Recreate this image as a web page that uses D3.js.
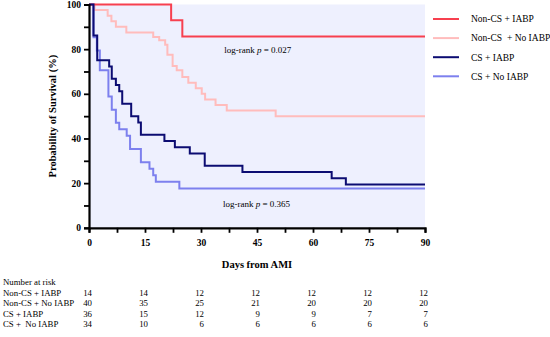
<!DOCTYPE html>
<html>
<head>
  <script src="https://d3js.org/d3.v7.min.js"></script>
  <style>
    body { margin: 0; background: #fff; }
    svg { display: block; font-family: "Liberation Serif", "DejaVu Serif", serif; }
  </style>
</head>
<body>
  <svg id="chart" width="550" height="337"></svg>
  <script>
    // group names (legend order) and colours
    const groups = ["Non-CS + IABP", "Non-CS  + No IABP", "CS + IABP", "CS + No IABP"];
    const colors = ["#f7404f", "#ffbcbc", "#0c0c72", "#7d80ee"];

    // survival steps [day, %]
    const nonCsIabp = [[0, 100], [22, 92.9], [25, 85.7], [90, 85.7]];
    const nonCsNoIabp = [[0, 100], [1.5, 97.5], [5, 95], [6, 92.5], [7.2, 90], [10, 87.5], [17.2, 85.5],
      [18.8, 84], [20.4, 82], [21, 77.5], [22.4, 72.5], [23.5, 70.5], [25, 67.5], [26.6, 65],
      [28.6, 62.5], [30.2, 60], [31.1, 57.5], [33.9, 55], [36.9, 52.5], [50, 50], [90, 50]];
    const csIabp = [[0, 100], [1.2, 86.1], [2.2, 75], [5.4, 72.2], [6.1, 66.7], [7.2, 63.9], [8.1, 61.1],
      [8.9, 55.6], [11.3, 50], [13.2, 47.2], [13.9, 41.7], [20.2, 38.9], [23, 36.1], [27, 33.3],
      [31, 27.8], [41.1, 25], [65, 22.2], [68.8, 19.4], [90, 19.4]];
    const csNoIabp = [[0, 100], [1.2, 85.3], [2.1, 79.4], [2.9, 70.6], [5.2, 58.8], [6.1, 52.9],
      [7.2, 47.1], [8.1, 44.1], [10.1, 41.2], [11, 35.3], [13.9, 29.4], [16.2, 26.5], [17.2, 23.5],
      [17.9, 20.6], [24.2, 17.6], [90, 17.6]];
    const series = [nonCsIabp, nonCsNoIabp, csIabp, csNoIabp];

    const xTicks = [0, 15, 30, 45, 60, 75, 90];
    const yTicks = [0, 20, 40, 60, 80, 100];

    // number at risk table
    const riskDays = [0, 15, 30, 45, 60, 75, 90];
    const riskNonCsIabp = [14, 14, 12, 12, 12, 12, 12];
    const riskNonCsNoIabp = [40, 35, 25, 21, 20, 20, 20];
    const riskCsIabp = [36, 15, 12, 9, 9, 7, 7];
    const riskCsNoIabp = [34, 10, 6, 6, 6, 6, 6];
    const riskLabels = ["Non-CS + IABP", "Non-CS + No IABP", "CS + IABP", "CS +  No IABP"];
    const riskRows = [riskNonCsIabp, riskNonCsNoIabp, riskCsIabp, riskCsNoIabp];

    const svg = d3.select("#chart");
    const margin = { top: 4.5, left: 89 };
    const width = 336, height = 223.3;

    const x = d3.scaleLinear().domain([0, 90]).range([0, width]);
    const y = d3.scaleLinear().domain([0, 100]).range([height, 0]);

    const g = svg.append("g").attr("transform", `translate(${margin.left},${margin.top})`);

    // plot background
    g.append("rect")
      .attr("x", x(0)).attr("y", y(100))
      .attr("width", x(90) - x(0)).attr("height", y(0) - y(100))
      .attr("fill", "#eef0fe");

    // curves
    const line = d3.line().x(d => x(d[0])).y(d => y(d[1])).curve(d3.curveStepAfter);
    const drawOrder = [1, 3, 0, 2];
    drawOrder.forEach(i => {
      g.append("path")
        .datum(series[i])
        .attr("d", line)
        .attr("fill", "none")
        .attr("stroke", colors[i])
        .attr("stroke-width", 2);
    });

    // axes
    const xAxis = d3.axisBottom(x).tickValues(xTicks).tickSize(5).tickPadding(6);
    const xMinor = d3.axisBottom(x).tickValues(xTicks.slice(0, -1).map(d => d + 7.5)).tickSize(5).tickFormat("");
    const yAxis = d3.axisLeft(y).tickValues(yTicks).tickSize(5).tickPadding(3);
    const yMinor = d3.axisLeft(y).tickValues(yTicks.slice(0, -1).map(d => d + 10)).tickSize(5).tickFormat("");

    function styleAxis(sel) {
      sel.select(".domain").attr("stroke", "#000").attr("stroke-width", 2.2);
      sel.selectAll(".tick line").attr("stroke", "#000").attr("stroke-width", 1.8);
      sel.selectAll("text")
        .attr("fill", "#000")
        .style("font-family", "'Liberation Serif', serif")
        .style("font-weight", "bold")
        .style("font-size", "9.5px");
    }

    g.append("g").attr("transform", `translate(0,${height})`).call(xMinor).call(styleAxis)
      .select(".domain").remove();
    g.append("g").call(yMinor).call(styleAxis).select(".domain").remove();
    g.append("g").attr("transform", `translate(0,${height})`).call(xAxis).call(styleAxis);
    g.append("g").call(yAxis).call(styleAxis);

    // axis titles
    svg.append("text")
      .attr("transform", `translate(56,${margin.top + height / 2}) rotate(-90)`)
      .attr("text-anchor", "middle")
      .style("font-weight", "bold").style("font-size", "10.5px")
      .text("Probability of Survival (%)");
    svg.append("text")
      .attr("x", margin.left + width / 2).attr("y", 268)
      .attr("text-anchor", "middle")
      .style("font-weight", "bold").style("font-size", "10.5px")
      .text("Days from AMI");

    // log-rank annotations
    const notes = [{ t: 0.027, day: 36.2, s: 78.5 }, { t: 0.365, day: 35.9, s: 9.5 }];
    notes.forEach(n => {
      const txt = g.append("text")
        .attr("x", x(n.day)).attr("y", y(n.s))
        .style("font-size", "9px");
      txt.append("tspan").text("log-rank ");
      txt.append("tspan").style("font-style", "italic").text("p");
      txt.append("tspan").text(" = " + n.t);
    });

    // legend
    const legend = svg.append("g").attr("transform", "translate(433,19)");
    groups.forEach((name, i) => {
      const row = legend.append("g").attr("transform", `translate(0,${i * 19.1})`);
      row.append("line").attr("x1", 0).attr("x2", 26).attr("stroke", colors[i]).attr("stroke-width", 2);
      row.append("text").attr("x", 38).attr("y", 3.3)
        .style("font-size", "9.5px").attr("xml:space", "preserve").text(name);
    });

    // number at risk table
    const table = svg.append("g").style("font-size", "8.8px");
    table.append("text").attr("x", 3).attr("y", 285).text("Number at risk");
    riskRows.forEach((row, r) => {
      const yy = 296.3 + r * 10.1;
      table.append("text").attr("x", 3).attr("y", yy)
        .attr("xml:space", "preserve").text(riskLabels[r]);
      table.selectAll(null).data(row).enter().append("text")
        .attr("x", (d, i) => margin.left + x(riskDays[i]) + 3)
        .attr("y", yy)
        .attr("text-anchor", "end")
        .text(d => d);
    });
  </script>
</body>
</html>
